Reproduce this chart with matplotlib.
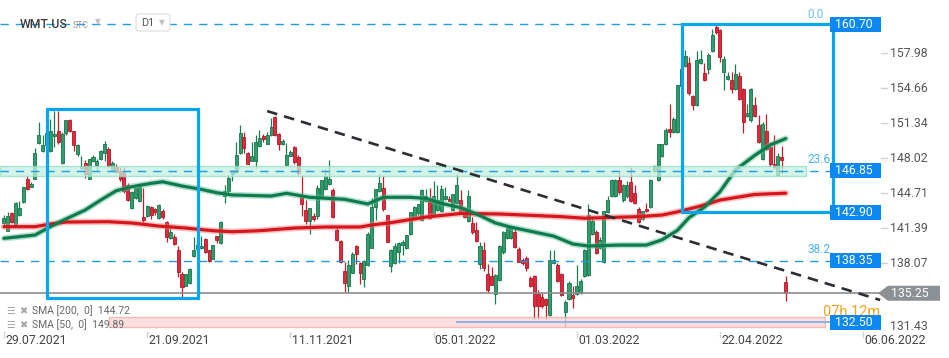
import matplotlib
matplotlib.use('Agg')
import matplotlib.pyplot as plt
import numpy as np
from matplotlib.patches import Rectangle, Polygon, FancyBboxPatch
from matplotlib.transforms import blended_transform_factory, IdentityTransform, Affine2D

plt.rcParams['font.family'] = ['Roboto', 'DejaVu Sans']

# ---------------- data ----------------
opens = [141.9, 141.1, 142.8, 141.7, 142.7, 143.9, 146.1, 145.3, 146.1, 149.5,
         148.7, 149.3, 148.7, 150.1, 150.6, 147.6, 150.4, 151.6, 150.6, 148.4,
         147.1, 147.6, 146.1, 147.8, 147.4, 148.0, 148.5, 148.9, 146.9, 147.2,
         146.8, 146.7, 145.5, 143.3, 144.3, 144.0, 142.5, 142.6, 143.4, 143.2,
         142.4, 143.0, 142.0, 140.5, 140.6, 139.3, 137.1, 135.9, 136.2, 138.8,
         139.4, 139.5, 140.4, 139.3, 138.5, 140.7, 140.0, 144.5, 144.9, 146.5,
         146.7, 148.5, 150.0, 148.5, 147.8, 147.8, 149.2, 150.1, 149.4, 150.2,
         151.9, 150.3, 149.4, 147.4, 148.2, 149.1, 148.1, 144.4, 143.1, 142.1,
         142.6, 142.6, 144.5, 145.1, 145.6, 145.0, 141.2, 140.2, 137.4, 135.9,
         137.2, 139.7, 138.1, 136.6, 137.9, 139.5, 143.4, 144.9, 145.2, 142.7,
         137.8, 138.1, 139.2, 139.8, 139.5, 140.9, 142.3, 142.8, 142.2, 144.0,
         144.1, 142.6, 143.1, 143.0, 144.2, 144.2, 143.1, 143.8, 144.1, 143.1,
         142.1, 141.9, 141.2, 138.0, 139.3, 137.1, 136.9, 135.2, 136.5, 139.2,
         140.5, 140.5, 141.0, 139.4, 138.4, 138.6, 136.7, 136.9, 135.2, 134.9,
         134.7, 133.2, 138.1, 137.9, 137.1, 133.5, 134.7, 135.1, 135.2, 135.3,
         136.9, 137.0, 140.9, 141.0, 139.5, 138.2, 142.9, 144.5, 144.5, 146.0,
         144.1, 144.5, 145.8, 144.7, 143.2, 142.3, 143.2, 143.4, 146.8, 146.0,
         148.2, 149.4, 150.8, 150.5, 150.5, 154.9, 156.8, 157.0, 153.9, 153.1,
         157.0, 156.1, 156.5, 158.2, 160.4, 160.2, 156.2, 155.5, 155.4, 154.6,
         155.8, 154.6, 152.0, 151.6, 153.1, 151.2, 148.0, 150.6, 149.1, 147.5,
         146.4, 148.1, 136.3]
highs = [142.7, 142.9, 142.9, 143.9, 144.0, 145.3, 146.3, 145.8, 149.0, 151.5,
         150.2, 150.6, 151.7, 152.5, 152.5, 150.5, 151.6, 151.7, 150.6, 149.4,
         148.2, 147.9, 148.0, 148.3, 148.0, 148.8, 149.7, 149.1, 147.8, 147.5,
         147.2, 147.2, 145.7, 144.9, 145.3, 145.7, 145.2, 143.6, 143.5, 143.3,
         143.7, 143.2, 142.1, 141.7, 140.9, 139.7, 137.3, 137.1, 137.6, 140.6,
         140.2, 140.7, 140.5, 139.3, 139.8, 140.7, 142.1, 145.5, 146.4, 146.9,
         149.6, 151.2, 150.5, 148.6, 149.6, 150.2, 150.7, 150.3, 150.5, 151.8,
         152.0, 150.4, 149.8, 149.5, 148.8, 149.2, 148.3, 146.4, 144.1, 143.3,
         142.8, 145.5, 146.0, 147.0, 147.9, 145.2, 141.6, 140.3, 138.2, 138.4,
         139.2, 139.8, 138.2, 138.4, 141.0, 144.3, 145.1, 146.5, 146.3, 142.7,
         139.4, 140.0, 140.1, 140.3, 140.8, 142.9, 143.5, 143.7, 145.1, 145.1,
         145.2, 145.9, 145.5, 145.5, 145.3, 144.5, 144.6, 146.5, 145.0, 143.4,
         145.0, 142.5, 142.0, 140.1, 140.1, 138.0, 137.7, 137.1, 139.8, 141.1,
         141.7, 141.5, 141.4, 139.6, 138.6, 138.8, 136.9, 137.0, 135.6, 135.3,
         134.8, 139.3, 139.3, 138.1, 137.2, 134.6, 136.4, 135.9, 137.9, 136.6,
         139.4, 143.7, 142.5, 141.2, 140.6, 143.0, 144.5, 146.1, 146.1, 146.8,
         145.6, 145.9, 147.2, 145.5, 143.4, 143.0, 143.8, 146.1, 147.4, 149.4,
         149.4, 150.9, 153.2, 151.9, 155.0, 156.6, 158.3, 157.6, 154.0, 158.2,
         158.3, 157.0, 158.0, 160.3, 160.7, 160.3, 157.7, 156.2, 156.2, 156.9,
         156.2, 154.7, 153.2, 154.7, 153.8, 152.1, 151.5, 152.2, 149.6, 150.2,
         148.5, 149.2, 136.9]
lows = [141.7, 141.1, 141.9, 141.6, 142.6, 143.8, 145.0, 145.3, 146.1, 149.4,
        148.6, 149.0, 148.6, 149.1, 149.4, 147.5, 150.2, 150.5, 148.7, 148.2,
        146.9, 146.2, 146.1, 147.7, 146.7, 147.9, 147.8, 147.2, 146.8, 146.6,
        145.9, 144.7, 144.0, 143.2, 144.2, 143.9, 141.9, 142.5, 142.3, 142.7,
        142.3, 142.3, 140.1, 140.4, 139.8, 136.8, 134.9, 135.9, 136.1, 138.7,
        139.3, 139.4, 139.1, 138.2, 138.5, 140.0, 139.9, 143.8, 144.7, 145.9,
        146.6, 148.4, 148.5, 147.5, 147.8, 147.1, 149.1, 149.6, 149.4, 150.1,
        150.1, 148.8, 149.3, 147.4, 148.2, 147.5, 146.4, 142.6, 141.8, 140.9,
        142.1, 142.3, 144.4, 145.0, 145.5, 142.4, 140.2, 138.1, 135.4, 135.4,
        137.2, 138.0, 136.1, 135.8, 137.8, 139.5, 142.2, 144.8, 143.0, 140.1,
        137.3, 138.0, 138.1, 138.9, 139.4, 140.8, 142.2, 142.6, 142.1, 143.9,
        142.3, 142.5, 143.0, 142.9, 144.1, 144.0, 143.0, 143.7, 142.9, 142.4,
        142.0, 140.9, 140.1, 137.5, 137.4, 135.3, 136.0, 134.2, 136.4, 139.0,
        140.4, 140.4, 139.5, 138.2, 137.9, 137.4, 135.8, 132.8, 132.8, 133.9,
        132.8, 133.1, 138.0, 136.3, 135.0, 132.1, 134.6, 133.9, 135.1, 135.2,
        136.8, 136.9, 140.8, 139.0, 139.4, 138.1, 142.8, 144.4, 144.4, 144.6,
        143.9, 144.3, 143.9, 143.7, 141.9, 142.2, 142.9, 143.3, 146.7, 145.9,
        148.1, 149.3, 150.0, 150.4, 150.4, 154.8, 156.7, 154.0, 152.6, 153.0,
        156.9, 155.3, 156.0, 158.1, 159.8, 157.1, 154.5, 155.4, 154.2, 154.5,
        153.5, 150.4, 151.9, 151.5, 151.9, 149.5, 147.9, 148.8, 147.3, 147.0,
        146.3, 146.6, 134.5]
closes = [142.4, 142.6, 142.0, 143.8, 143.3, 145.3, 145.1, 145.6, 148.5, 150.2,
          149.3, 150.4, 150.6, 150.3, 149.6, 150.3, 151.6, 150.6, 149.3, 149.3,
          147.3, 146.5, 148.0, 148.1, 147.8, 148.7, 149.4, 147.3, 147.6, 146.7,
          146.1, 144.9, 144.1, 144.8, 145.2, 145.3, 142.2, 143.5, 142.7, 142.9,
          143.6, 142.5, 140.6, 141.0, 139.9, 137.3, 135.8, 137.1, 137.5, 139.3,
          139.8, 139.7, 139.2, 138.3, 139.8, 140.3, 142.0, 144.9, 146.2, 146.9,
          148.3, 150.4, 149.0, 147.5, 148.2, 149.6, 149.9, 149.8, 150.2, 151.0,
          150.2, 149.4, 149.7, 148.3, 148.6, 147.7, 146.6, 143.7, 142.1, 143.3,
          142.3, 145.2, 146.0, 146.3, 146.1, 142.5, 140.3, 138.2, 136.2, 137.9,
          139.0, 139.0, 137.2, 138.3, 140.9, 143.4, 145.1, 145.7, 143.2, 140.1,
          139.3, 139.7, 140.0, 140.1, 140.8, 142.9, 143.4, 143.7, 145.0, 144.5,
          142.4, 144.5, 144.1, 145.1, 144.5, 144.0, 144.6, 145.5, 143.0, 142.5,
          144.5, 141.0, 140.2, 139.7, 137.6, 135.6, 136.0, 137.0, 139.7, 141.0,
          141.4, 141.4, 139.6, 138.2, 138.1, 137.6, 135.9, 134.0, 134.0, 134.0,
          134.1, 138.4, 138.4, 136.4, 135.1, 134.4, 136.2, 134.8, 135.9, 136.4,
          139.3, 142.7, 142.1, 139.1, 140.3, 143.0, 144.1, 146.0, 146.0, 144.8,
          145.5, 145.5, 144.0, 143.8, 142.0, 143.0, 143.0, 146.0, 147.3, 149.4,
          149.4, 150.7, 150.5, 151.7, 155.0, 156.5, 157.7, 154.2, 153.1, 157.3,
          157.4, 155.4, 157.8, 159.7, 160.0, 157.6, 157.4, 155.8, 154.6, 156.0,
          153.6, 151.5, 152.3, 154.6, 152.0, 149.6, 151.3, 148.9, 147.5, 147.2,
          148.2, 147.9, 135.3]

sma200_idx = [0, 8, 12, 16, 27, 33, 40, 47, 54, 59, 66, 75, 83, 92, 95, 100,
              109, 118, 128, 144, 150, 164, 170, 174, 180, 185, 194, 202]
sma200_val = [141.55, 141.55, 141.80, 141.99, 142.02, 141.90, 141.61, 141.42,
              141.17, 141.07, 141.17, 141.42, 141.52, 141.52, 141.71, 141.93,
              142.46, 142.80, 142.75, 142.50, 142.35, 142.50, 142.65, 142.95,
              143.50, 144.07, 144.60, 144.72]
sma50_idx = [0, 8, 12, 16, 21, 25, 29, 33, 38, 41, 46, 51, 55, 59, 69, 73, 79,
             88, 94, 98, 105, 109, 113, 118, 123, 127, 131, 135, 142, 147, 151,
             159, 166, 170, 174, 177, 181, 185, 189, 194, 198, 202]
sma50_val = [140.45, 140.76, 141.55, 142.28, 143.13, 144.07, 144.95, 145.33,
             145.65, 145.80, 145.40, 145.08, 144.76, 144.55, 144.45, 144.71,
             144.33, 144.14, 143.70, 144.33, 144.33, 144.23, 143.76, 143.35,
             142.60, 141.90, 141.50, 141.20, 140.66, 139.91, 139.72, 139.81,
             139.81, 140.30, 141.20, 142.40, 143.40, 144.86, 146.91, 148.30,
             149.28, 149.89]

y_ticks = [157.98, 154.66, 151.34, 148.02, 144.71, 141.39, 138.07]
y_tick_bottom = 131.43
date_pos = [0, 37, 74, 111, 148, 185, 222]
date_labels = ['29.07.2021', '21.09.2021', '11.11.2021', '05.01.2022',
               '01.03.2022', '22.04.2022', '06.06.2022']

fib_levels = [160.70, 146.85, 138.35]
fib_names = ['0.0', '23.6', '38.2']
blue_labels = [160.70, 146.85, 142.90, 138.35, 132.50]
last_price = 135.25
band_green = (146.37, 147.29)
band_pink = (132.06, 133.00)
box1 = (11.2, 50.1, 134.80, 152.68)   # x0, x1, y0, y1
box2 = (175.3, 214.1, 142.90, 160.70)
trend_x = [68.0, 226.4]
trend_y = [152.49, 134.61]

# ---------------- figure ----------------
W, H = 949, 358
fig = plt.figure(figsize=(W / 100, H / 100), dpi=100)
ax = fig.add_axes([0, 25 / H, 880 / W, 333 / H])
ax.set_xlim(-1.03, 226.36)
ax.set_ylim(131.49, 163.0)
ax.axis('off')

upp = (163.0 - 131.49) / 333.0   # price units per pixel
bt = blended_transform_factory(IdentityTransform(), ax.transData)   # x px, y price
bx = blended_transform_factory(ax.transData, IdentityTransform())   # x index, y px
pt = Affine2D().scale(1, -1).translate(0, H)                         # pixel, top-left origin

x = np.arange(len(opens))
o = np.array(opens); h = np.array(highs); l = np.array(lows); c = np.array(closes)
up = c >= o
fill = np.where(up, '#2f9d6c', '#e2283b')
edge = np.where(up, '#17744b', '#b01828')
wick = np.where(up, '#1c7c50', '#c31b2d')

ax.vlines(x, l, h, colors=wick, lw=0.9, zorder=2)
ax.bar(x, np.maximum(np.abs(c - o), 0.1), bottom=np.minimum(o, c), width=0.78,
       color=fill, edgecolor=edge, linewidth=0.6, zorder=3)

# moving averages
ax.plot(sma200_idx, sma200_val, color='#f07a7a', lw=4.6, alpha=0.45, zorder=4,
        solid_capstyle='round')
ax.plot(sma200_idx, sma200_val, color='#d6161c', lw=2.3, zorder=4.1,
        solid_capstyle='round')
ax.plot(sma50_idx, sma50_val, color='#5fbf95', lw=4.6, alpha=0.45, zorder=4,
        solid_capstyle='round')
ax.plot(sma50_idx, sma50_val, color='#0f7b4d', lw=2.3, zorder=4.1,
        solid_capstyle='round')

# bands
ax.add_patch(Rectangle((-1.03, band_green[0]), 207.2 + 1.03, band_green[1] - band_green[0],
                       fc='#c3efdf', ec='#93dcbf', lw=1, alpha=0.75, zorder=5))
ax.add_patch(Rectangle((27.1, band_pink[0]), 212.1 - 27.1, band_pink[1] - band_pink[0],
                       fc='#fbd3d3', ec='#f2a9a9', lw=1, alpha=0.75, zorder=9,
                       clip_on=False))
ax.plot([117.0, 213.5], [132.50, 132.50], color='#86aee6', lw=1.3, zorder=9.2)

# last price line
ax.axhline(last_price, color='#8a8d90', lw=1.2, zorder=4.5)

# fib dashed lines
for lv in fib_levels:
    ax.plot([-1.03, 213.5], [lv, lv], color='#1f9be3', lw=1.0,
            dashes=(6, 5), zorder=6)
for lv, nm in zip(fib_levels, fib_names):
    dy = 3 if nm == '0.0' else 5
    ax.text(807, lv + dy * upp, nm, transform=bt, color='#49b2ea', fontsize=8.5,
            ha='left', va='bottom', zorder=6, clip_on=False,
            alpha=0.8 if nm == '0.0' else 1.0)

# trend line
ax.plot(trend_x, trend_y, color='#2b2f33', lw=1.9, dashes=(4, 2.7), zorder=7,
        clip_on=False)

# boxes
for (x0, x1, y0, y1) in (box1, box2):
    ax.add_patch(Rectangle((x0, y0), x1 - x0, y1 - y0, fill=False,
                           ec='#08a6ef', lw=2.3, zorder=8, clip_on=False))

# countdown text (partly behind the 132.50 label, as in the source)
ax.text(823, 132.50 + 10 * upp, '07h 12m', transform=bt, color='#f6a21e',
        fontsize=10.5, ha='left', va='center', zorder=9.5, clip_on=False)

# price labels on the right
def price_box(price, text, fc, x0=830, w=51, hgt=15, arrow=False, z=10):
    dy = hgt / 2 * upp
    if arrow:
        pts = [(x0, price), (x0 + 10, price + dy), (x0 + w, price + dy),
               (x0 + w, price - dy), (x0 + 10, price - dy)]
        tx = x0 + 13
    else:
        pts = [(x0, price - dy), (x0 + w, price - dy), (x0 + w, price + dy),
               (x0, price + dy)]
        tx = x0 + 5
    ax.add_patch(Polygon(pts, closed=True, transform=bt, fc=fc, ec='none',
                         zorder=z, clip_on=False))
    ax.text(tx, price, text, transform=bt, color='white', fontsize=8.8,
            ha='left', va='center', zorder=z + 0.1, clip_on=False)

for p in blue_labels:
    price_box(p, f'{p:.2f}', '#0b88f2')
price_box(last_price, f'{last_price:.2f}', '#8b9095', x0=878, w=62, hgt=15,
          arrow=True)

# y axis ticks and labels
for v in y_ticks:
    ax.plot([881, 887], [v, v], transform=bt, color='#d2d2d2', lw=1,
            clip_on=False)
    ax.text(890, v, f'{v:.2f}', transform=bt, color='#555555', fontsize=8.8,
            ha='left', va='center', clip_on=False)
ax.text(890, H - 327, f'{y_tick_bottom:.2f}', transform=IdentityTransform(),
        color='#555555', fontsize=8.8, ha='left', va='center')

# x axis dates
for ip, lab in zip(date_pos, date_labels):
    ax.plot([ip, ip], [H - 332, H - 337], transform=bx, color='#d2d2d2', lw=1,
            clip_on=False)
    ax.text(ip + 0.3, H - 341, lab, transform=bx, color='#444444', fontsize=8.8,
            ha='left', va='center', clip_on=False)

# header
fig.text(20, 24, 'WMT.US', transform=pt, color='#3d3d3d', fontsize=8.8,
         fontweight='medium', ha='left', va='center')
fig.text(73, 25, 'STC', transform=pt, color='#9a9a9a', fontsize=6.3,
         ha='left', va='center')
fig.text(95, 22, '▼', transform=pt, color='#c2c2c2', fontsize=5.5,
         ha='left', va='center', family=['DejaVu Sans'])
fig.patches.append(FancyBboxPatch((136, H - 31), 34, 17, transform=IdentityTransform(),
                                  boxstyle='round,pad=0,rounding_size=2.5',
                                  fc='white', ec='#dcdcdc', lw=0.8, zorder=20))
fig.text(141, 23, 'D1', transform=pt, color='#555555', fontsize=7.8,
         ha='left', va='center', zorder=21)
fig.text(159, 23, '▼', transform=pt, color='#c2c2c2', fontsize=5.5,
         ha='left', va='center', family=['DejaVu Sans'], zorder=21)

# legend
for yy, txt in ((311, 'SMA [200,  0]  144.72'), (325, 'SMA [50,  0]  149.89')):
    fig.text(6, yy, '☰', transform=pt, color='#a5a5a5', fontsize=7,
             ha='left', va='center', family=['DejaVu Sans'])
    fig.text(19, yy, '✖', transform=pt, color='#a5a5a5', fontsize=7,
             ha='left', va='center', family=['DejaVu Sans'])
    fig.text(32, yy, txt, transform=pt, color='#666666', fontsize=7.5,
             ha='left', va='center')

fig.savefig('out.png', dpi=100, facecolor='white')
